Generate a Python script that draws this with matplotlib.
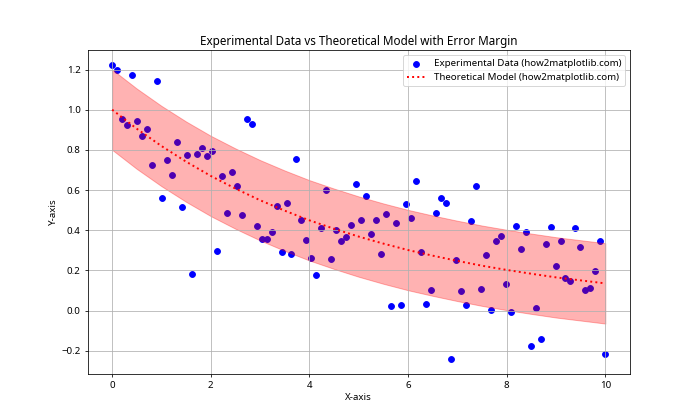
import numpy as np
import matplotlib
matplotlib.use('Agg')
import matplotlib.pyplot as plt

plt.rcParams['font.family'] = ['Noto Sans', 'DejaVu Sans']

# measured points, evenly spaced over 0..10
x = np.linspace(0, 10, 100)
y_exp = [
	1.222, 1.196, 0.952, 0.922, 1.171, 0.944, 0.867, 0.902, 0.723, 1.141,
	0.561, 0.748, 0.673, 0.837, 0.514, 0.773, 0.181, 0.778, 0.808, 0.768,
	0.793, 0.295, 0.670, 0.484, 0.688, 0.619, 0.474, 0.952, 0.927, 0.420,
	0.355, 0.355, 0.390, 0.519, 0.290, 0.534, 0.279, 0.753, 0.449, 0.350,
	0.260, 0.176, 0.410, 0.599, 0.255, 0.400, 0.345, 0.365, 0.425, 0.629,
	0.449, 0.569, 0.380, 0.449, 0.280, 0.479, 0.022, 0.434, 0.027, 0.529,
	0.459, 0.643, 0.290, 0.032, 0.101, 0.484, 0.559, 0.534, -0.242, 0.250,
	0.096, 0.027, 0.444, 0.619, 0.106, 0.275, 0.002, 0.345, 0.370, 0.131,
	-0.008, 0.420, 0.305, 0.390, -0.176, 0.013, -0.143, 0.330, 0.415, 0.221,
	0.345, 0.161, 0.146, 0.410, 0.315, 0.101, 0.111, 0.196, 0.345, -0.217,
]

# theoretical curve read at half-unit steps
x_model = [0, 0.5, 1, 1.5, 2, 2.5, 3, 3.5, 4, 4.5, 5,
		5.5, 6, 6.5, 7, 7.5, 8, 8.5, 9, 9.5, 10]
y_model = [1.000, 0.905, 0.819, 0.741, 0.670, 0.607, 0.549, 0.497, 0.449, 0.407, 0.368,
		0.333, 0.301, 0.273, 0.247, 0.223, 0.202, 0.183, 0.165, 0.150, 0.135]
margin = 0.2

fig, ax = plt.subplots(figsize=(10, 6), dpi=70)
ax.scatter(x, y_exp, color='blue', label='Experimental Data (how2matplotlib.com)')
ax.plot(x_model, y_model, 'r:', linewidth=2, label='Theoretical Model (how2matplotlib.com)')
ym = np.array(y_model)
ax.fill_between(x_model, ym - margin, ym + margin, color='red', alpha=0.3)

ax.set_title('Experimental Data vs Theoretical Model with Error Margin')
ax.set_xlabel('X-axis')
ax.set_ylabel('Y-axis')
ax.legend()
ax.grid(True)

plt.savefig('out.png', dpi=70)
